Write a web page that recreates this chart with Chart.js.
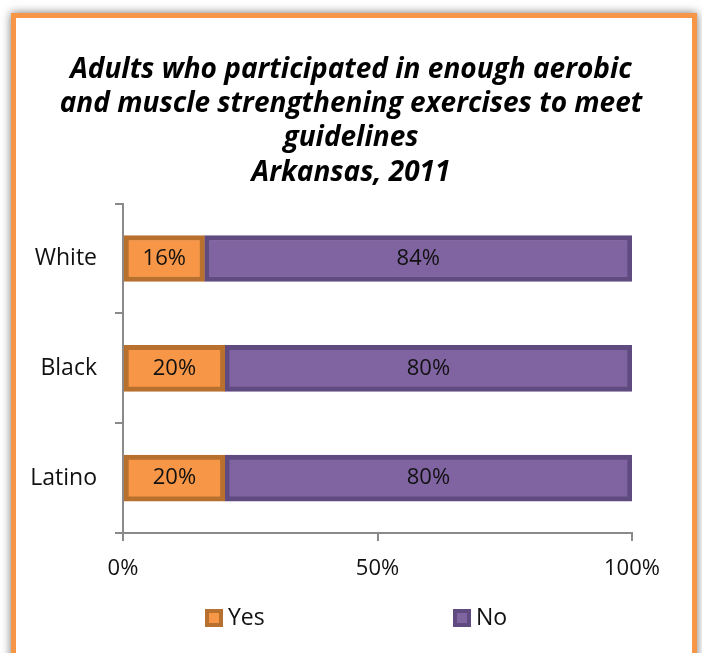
<!DOCTYPE html>
<html>
<head>
<meta charset="utf-8">
<script src="https://cdn.jsdelivr.net/npm/chart.js@4"></script>
<style>
    html, body { margin: 0; padding: 0; background: #fff; }
    body { width: 702px; height: 653px; overflow: hidden; position: relative; }
    .frame {
        position: absolute;
        left: 11px;
        top: 13px;
        width: 686px;
        height: 700px;
        box-sizing: border-box;
        border: 5px solid #f79646;
        box-shadow: 0 0 9px rgba(0, 0, 0, 0.55);
        background: #fff;
    }
    #chart { position: absolute; left: 0; top: 0; z-index: 1; }
</style>
</head>
<body>
<div class="frame"></div>
<canvas id="chart" width="702" height="653"></canvas>
<script>
const groups = ['White', 'Black', 'Latino'];
const yesValues = [16, 20, 20];
const noValues = [84, 80, 80];
const xTicks = [0, 50, 100];
const titleLines = [
    'Adults who participated in enough aerobic',
    'and muscle strengthening exercises to meet',
    'guidelines',
    'Arkansas, 2011',
];

const FONT = '"Open Sans", Lato, sans-serif';
const axisGrey = '#8a8a8a';

// percentage written in the middle of each bar segment
const segmentLabels = {
    id: 'segmentLabels',
    afterDatasetsDraw(chart) {
        const { ctx } = chart;
        ctx.save();
        ctx.font = `22px ${FONT}`;
        ctx.fillStyle = '#111';
        ctx.textAlign = 'center';
        ctx.textBaseline = 'middle';
        chart.data.datasets.forEach((ds, i) => {
            chart.getDatasetMeta(i).data.forEach((bar, j) => {
                ctx.fillText(ds.data[j] + '%', (bar.x + bar.base) / 2, bar.y);
            });
        });
        ctx.restore();
    },
};

// legend row under the axis, two items spread wide apart
const wideLegend = {
    id: 'wideLegend',
    afterDraw(chart) {
        const { ctx } = chart;
        const slots = [205, 453];
        const y = 618;
        ctx.save();
        ctx.font = `23px ${FONT}`;
        ctx.textBaseline = 'middle';
        ctx.textAlign = 'left';
        chart.data.datasets.forEach((ds, i) => {
            const x = slots[i];
            ctx.fillStyle = ds.borderColor;
            ctx.fillRect(x, y - 9, 18, 18);
            ctx.fillStyle = ds.backgroundColor;
            ctx.fillRect(x + 4, y - 5, 10, 10);
            ctx.fillStyle = '#111';
            ctx.fillText(ds.label, x + 23, y);
        });
        ctx.restore();
    },
};

const axisGrid = {
    drawOnChartArea: false,
    drawTicks: true,
    tickLength: 8,
    color: axisGrey,
    lineWidth: 2,
};

new Chart(document.getElementById('chart'), {
    type: 'bar',
    data: {
        labels: groups,
        datasets: [
            {
                label: 'Yes',
                data: yesValues,
                backgroundColor: '#f79646',
                borderColor: '#b8702f',
                borderWidth: 5,
                borderSkipped: false,
                barThickness: 46,
            },
            {
                label: 'No',
                data: noValues,
                backgroundColor: '#8064a2',
                borderColor: '#5f4b80',
                borderWidth: 5,
                borderSkipped: false,
                barThickness: 46,
            },
        ],
    },
    options: {
        indexAxis: 'y',
        responsive: false,
        animation: false,
        layout: {
            padding: { left: 0, right: 0, top: 0, bottom: 60 },
        },
        plugins: {
            legend: { display: false },
            tooltip: { enabled: false },
            title: {
                display: true,
                text: titleLines,
                color: '#000',
                font: { family: FONT, size: 28, style: 'italic', weight: 'bold', lineHeight: 1.22 },
                padding: { top: 53, bottom: 14 },
            },
        },
        scales: {
            x: {
                stacked: true,
                min: 0,
                max: 100,
                afterBuildTicks: (scale) => {
                    scale.ticks = xTicks.map((v) => ({ value: v }));
                },
                ticks: {
                    color: '#111',
                    font: { family: FONT, size: 22 },
                    padding: 15,
                    maxRotation: 0,
                    callback: (v) => v + '%',
                },
                grid: axisGrid,
                border: { display: true, color: axisGrey, width: 2 },
                afterFit: (scale) => { scale.height = 60; },
            },
            y: {
                stacked: true,
                ticks: {
                    color: '#111',
                    font: { family: FONT, size: 23 },
                    padding: 18,
                },
                grid: axisGrid,
                border: { display: true, color: axisGrey, width: 2 },
                afterFit: (scale) => { scale.width = 123; },
            },
            // empty right-hand gutter so the plot ends short of the frame
            gutter: {
                axis: 'y',
                type: 'category',
                position: 'right',
                grid: { display: false },
                ticks: { display: false },
                border: { display: false },
                afterFit: (scale) => { scale.width = 70; },
            },
        },
    },
    plugins: [segmentLabels, wideLegend],
});
</script>
</body>
</html>
